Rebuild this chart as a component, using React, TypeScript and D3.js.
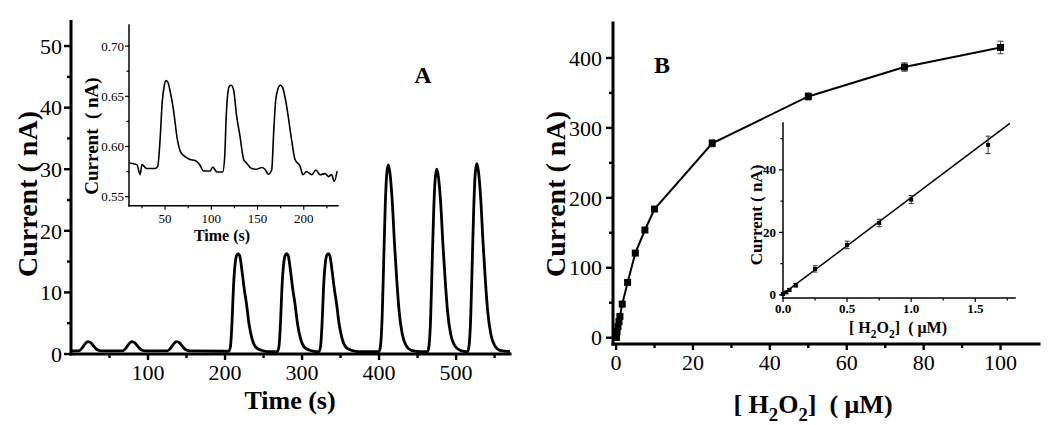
import React from "react";
import * as d3 from "d3";

// ---- panel A: amperometric trace (time s, current nA)
const traceA: [number, number][] = [
  [0, 0.5], [10, 0.5], [14, 0.9], [18, 1.6], [22, 2.0], [26, 1.8], [30, 1.2], [34, 0.7], [40, 0.5],
  [67, 0.5], [71, 0.9], [75, 1.6], [79, 2.0], [83, 1.8], [87, 1.2], [91, 0.7], [97, 0.5],
  [125, 0.5], [129, 0.9], [133, 1.6], [137, 2.0], [141, 1.8], [145, 1.2], [149, 0.7], [155, 0.5],
  [205, 0.45], [207, 1.2], [209, 5], [211, 11], [213, 14.5], [215, 16], [217, 16.3], [219, 16], [222, 13.5],
  [225, 10.5], [228, 8], [231, 5], [235, 2.5], [240, 1.1], [247, 0.6], [255, 0.4],
  [268, 0.4], [270, 1.2], [272, 5], [274, 11], [276, 14.5], [278, 16], [280, 16.3], [282, 16], [285, 13.5],
  [288, 10.5], [291, 8], [294, 5], [298, 2.5], [303, 1.1], [310, 0.6], [318, 0.4],
  [322, 0.4], [324, 1.2], [326, 5], [328, 11], [330, 14.5], [332, 16], [334, 16.3], [336, 16], [339, 13.5],
  [342, 10.5], [345, 8], [348, 5], [352, 2.5], [357, 1.1], [364, 0.6], [372, 0.4],
  [400, 0.4], [402, 1.5], [404, 6], [406, 15], [408, 24], [410, 29.3], [412, 30.7], [414, 29.5], [417, 25],
  [420, 18], [423, 12], [426, 7], [430, 3.3], [435, 1.4], [442, 0.6], [452, 0.4],
  [463, 0.4], [465, 1.5], [467, 6], [469, 15], [471, 23.5], [473, 28.6], [475, 30], [477, 28.8], [480, 24.5],
  [483, 17.6], [486, 11.7], [489, 6.8], [493, 3.2], [498, 1.4], [505, 0.6], [512, 0.4],
  [515, 0.4], [517, 1.5], [519, 6], [521, 15], [523, 24], [525, 29.5], [527, 30.9], [529, 29.7], [532, 25.2],
  [535, 18.1], [538, 12], [541, 7], [545, 3.3], [550, 1.4], [557, 0.6], [570, 0.4],
];

// inset of A: low concentration trace
const insetTraceA: [number, number][] = [
  [11.5, 0.5835], [19.5, 0.5819], [23, 0.5719], [25, 0.582], [30, 0.578], [39, 0.578], [42, 0.58],
  [44.6, 0.6067], [47, 0.645], [49, 0.66], [51, 0.6656], [53, 0.664], [55, 0.657], [59, 0.637],
  [63.3, 0.607], [67, 0.594], [71.6, 0.59], [77, 0.587], [82.5, 0.586], [88, 0.581], [91.5, 0.5755],
  [98.8, 0.5755], [101.5, 0.5795], [106, 0.5746], [112.3, 0.5746], [114.5, 0.59], [116, 0.627],
  [117.5, 0.65], [119.5, 0.66], [121.5, 0.661], [124, 0.6568], [127.4, 0.6303], [131, 0.6104],
  [135, 0.587], [138, 0.5835], [143.6, 0.578], [149, 0.5773], [154.5, 0.579], [158, 0.5773],
  [161.6, 0.5724], [165.3, 0.5766], [167.5, 0.615], [169.5, 0.645], [172, 0.657], [174.5, 0.661],
  [177, 0.659], [179.5, 0.65], [181.5, 0.64], [186.8, 0.6067], [190.5, 0.587], [196, 0.5803],
  [199, 0.5719], [203, 0.575], [208.6, 0.5719], [213, 0.5766], [217.7, 0.5719], [223, 0.573],
  [226.7, 0.57], [230, 0.572], [233, 0.5653], [236, 0.5755],
];

// ---- panel B: calibration curve
const concB = [0, 0.025, 0.05, 0.1, 0.25, 0.5, 0.75, 1.0, 1.6, 3, 5, 7.5, 10, 25, 50, 75, 100];
const currB = [0.3, 0.8, 1.6, 3.1, 8.3, 16, 23, 30.5, 48, 79, 121, 154, 184, 278, 345, 387, 415];
const errB = [0.3, 0.3, 0.4, 0.6, 1, 1.2, 1.2, 1.3, 2.8, 3, 3, 3, 3, 5, 5, 6, 9];
const insetMaxConc = 1.6;
const fitB: [number, number][] = [[0, 0.3], [1.77, 54.9]];

// ticks
const aYTicks = [0, 10, 20, 30, 40, 50];
const aYMinor = [5, 15, 25, 35, 45];
const aXTicks = [100, 200, 300, 400, 500];
const aXMinor = [50, 150, 250, 350, 450, 550];
const iaYTicks = [0.55, 0.6, 0.65, 0.7];
const iaYMinor = [0.575, 0.625, 0.675];
const iaXTicks = [50, 100, 150, 200];
const iaXMinor = [25, 75, 125, 175, 225];
const bYTicks = [0, 100, 200, 300, 400];
const bYMinor = [50, 150, 250, 350];
const bXTicks = [0, 20, 40, 60, 80, 100];
const bXMinor = [10, 30, 50, 70, 90];
const ibYTicks = [0, 20, 40];
const ibYMinor = [10, 30, 50];
const ibXTicks = [0, 0.5, 1.0, 1.5];
const ibXMinor = [0.25, 0.75, 1.25, 1.75];

const FONT = "'Liberation Serif', 'Times New Roman', Times, serif";

type Lin = d3.ScaleLinear<number, number>;

function AxisY(p: {
  scale: Lin; x: number; ticks: number[]; minor: number[]; fmt: (v: number) => string;
  size: number; len: number; minorLen: number; sw: number; bold?: boolean; gap: number;
}) {
  const [r0, r1] = p.scale.range();
  return (
    <g>
      <line x1={p.x} x2={p.x} y1={r0} y2={r1} stroke="#000" strokeWidth={p.sw} strokeLinecap="square" />
      {p.ticks.map((t) => (
        <g key={"t" + t}>
          <line x1={p.x - p.len} x2={p.x} y1={p.scale(t)} y2={p.scale(t)} stroke="#000" strokeWidth={p.sw * 0.8} />
          <text x={p.x - p.len - p.gap} y={p.scale(t)} dy="0.35em" textAnchor="end" fontSize={p.size}
            fontWeight={p.bold ? "bold" : "normal"}>{p.fmt(t)}</text>
        </g>
      ))}
      {p.minor.map((t) => (
        <line key={"m" + t} x1={p.x - p.minorLen} x2={p.x} y1={p.scale(t)} y2={p.scale(t)} stroke="#000" strokeWidth={p.sw * 0.8} />
      ))}
    </g>
  );
}

function AxisX(p: {
  scale: Lin; y: number; ticks: number[]; minor: number[]; fmt: (v: number) => string;
  size: number; len: number; minorLen: number; sw: number; bold?: boolean; base: number;
}) {
  const [r0, r1] = p.scale.range();
  return (
    <g>
      <line x1={r0} x2={r1} y1={p.y} y2={p.y} stroke="#000" strokeWidth={p.sw} strokeLinecap="square" />
      {p.ticks.map((t) => (
        <g key={"t" + t}>
          <line x1={p.scale(t)} x2={p.scale(t)} y1={p.y} y2={p.y + p.len} stroke="#000" strokeWidth={p.sw * 0.8} />
          <text x={p.scale(t)} y={p.y + p.base} textAnchor="middle" fontSize={p.size}
            fontWeight={p.bold ? "bold" : "normal"}>{p.fmt(t)}</text>
        </g>
      ))}
      {p.minor.map((t) => (
        <line key={"m" + t} x1={p.scale(t)} x2={p.scale(t)} y1={p.y} y2={p.y + p.minorLen} stroke="#000" strokeWidth={p.sw * 0.8} />
      ))}
    </g>
  );
}

function H2O2({ sub }: { sub: number }) {
  return (
    <>
      {"[ H"}<tspan dy={sub * 0.3} fontSize={sub * 0.72}>2</tspan>
      <tspan dy={-sub * 0.3}>O</tspan>
      <tspan dy={sub * 0.3} fontSize={sub * 0.72}>2</tspan>
      <tspan dy={-sub * 0.3}>{"]  ( \u03bcM)"}</tspan>
    </>
  );
}

export default function App() {
  // scales
  const xA = d3.scaleLinear().domain([0, 570]).range([71, 510]);
  const yA = d3.scaleLinear().domain([0, 54]).range([354, 21.4]);
  const xIA = d3.scaleLinear().domain([11, 237]).range([129, 338]);
  const yIA = d3.scaleLinear().domain([0.541, 0.721]).range([205.7, 25]);
  const xB = d3.scaleLinear().domain([-0.8, 110]).range([613, 1039]);
  const yB = d3.scaleLinear().domain([-9, 450]).range([344, 23]);
  const xIB = d3.scaleLinear().domain([0, 1.81]).range([783, 1015]);
  const yIB = d3.scaleLinear().domain([-1, 55]).range([298, 123]);

  const lineA = d3.line<[number, number]>().x((d) => xA(d[0])).y((d) => yA(d[1])).curve(d3.curveMonotoneX);
  const lineIA = d3.line<[number, number]>().x((d) => xIA(d[0])).y((d) => yIA(d[1])).curve(d3.curveMonotoneX);
  const ptsB = concB.map((c, i) => ({ c, v: currB[i], e: errB[i] }));
  const lineB = d3.line<{ c: number; v: number }>().x((d) => xB(d.c)).y((d) => yB(d.v));
  const fitLine = d3.line<[number, number]>().x((d) => xIB(d[0])).y((d) => yIB(d[1]));
  const ptsIB = ptsB.filter((d) => d.c <= insetMaxConc);

  const f0 = d3.format("d");
  const f2 = d3.format(".2f");
  const f1 = d3.format(".1f");

  return (
    <svg width={1050} height={425} style={{ position: "absolute", left: 0, top: 0, background: "#fff" }}
      fontFamily={FONT}>
      <rect width={1050} height={425} fill="#fff" />

      {/* ---------- A ---------- */}
      <path d={lineA(traceA) || ""} fill="none" stroke="#000" strokeWidth={2.8} strokeLinejoin="round" />
      <AxisY scale={yA} x={71} ticks={aYTicks} minor={aYMinor} fmt={f0} size={22} len={7} minorLen={4} sw={3} gap={2} />
      <AxisX scale={xA} y={354} ticks={aXTicks} minor={aXMinor} fmt={f0} size={22} len={6} minorLen={4} sw={3} base={26} />
      <text transform="translate(37,194) rotate(-90)" textAnchor="middle" fontSize={28} fontWeight="bold"
        style={{ whiteSpace: "pre" }}>Current ( nA)</text>
      <text x={290} y={409} textAnchor="middle" fontSize={26} fontWeight="bold">Time (s)</text>
      <text x={423} y={83} textAnchor="middle" fontSize={24} fontWeight="bold">A</text>

      {/* inset A */}
      <path d={lineIA(insetTraceA) || ""} fill="none" stroke="#000" strokeWidth={1.6} strokeLinejoin="round" />
      <AxisY scale={yIA} x={129} ticks={iaYTicks} minor={iaYMinor} fmt={f2} size={13} len={4} minorLen={2.5} sw={1.5} gap={1} />
      <AxisX scale={xIA} y={205.7} ticks={iaXTicks} minor={iaXMinor} fmt={f0} size={13} len={4} minorLen={2.5} sw={1.5} base={17} />
      <text transform="translate(98,136) rotate(-90)" textAnchor="middle" fontSize={19} fontWeight="bold"
        style={{ whiteSpace: "pre" }}>{"Current  ( nA)"}</text>
      <text x={222} y={241} textAnchor="middle" fontSize={16} fontWeight="bold">Time (s)</text>

      {/* ---------- B ---------- */}
      <path d={lineB(ptsB) || ""} fill="none" stroke="#000" strokeWidth={2} />
      {ptsB.map((d) => (
        <g key={"b" + d.c}>
          <line x1={xB(d.c)} x2={xB(d.c)} y1={yB(d.v - d.e)} y2={yB(d.v + d.e)} stroke="#444" strokeWidth={1} />
          <line x1={xB(d.c) - 3} x2={xB(d.c) + 3} y1={yB(d.v - d.e)} y2={yB(d.v - d.e)} stroke="#444" strokeWidth={1} />
          <line x1={xB(d.c) - 3} x2={xB(d.c) + 3} y1={yB(d.v + d.e)} y2={yB(d.v + d.e)} stroke="#444" strokeWidth={1} />
          <rect x={xB(d.c) - 3.5} y={yB(d.v) - 3.5} width={7} height={7} fill="#000" />
        </g>
      ))}
      <AxisY scale={yB} x={613} ticks={bYTicks} minor={bYMinor} fmt={f0} size={22} len={7} minorLen={4} sw={3} gap={4} />
      <AxisX scale={xB} y={344} ticks={bXTicks} minor={bXMinor} fmt={f0} size={22} len={6} minorLen={4} sw={3} base={26} />
      <text transform="translate(565,194) rotate(-90)" textAnchor="middle" fontSize={28} fontWeight="bold"
        style={{ whiteSpace: "pre" }}>Current ( nA)</text>
      <text x={813} y={413} textAnchor="middle" fontSize={26} fontWeight="bold" style={{ whiteSpace: "pre" }}>
        <H2O2 sub={26} />
      </text>
      <text x={662} y={73} textAnchor="middle" fontSize={24} fontWeight="bold">B</text>

      {/* inset B */}
      <path d={fitLine(fitB) || ""} fill="none" stroke="#000" strokeWidth={1.5} />
      {ptsIB.map((d) => (
        <g key={"ib" + d.c}>
          <line x1={xIB(d.c)} x2={xIB(d.c)} y1={yIB(d.v - d.e)} y2={yIB(d.v + d.e)} stroke="#333" strokeWidth={1} />
          <line x1={xIB(d.c) - 2.5} x2={xIB(d.c) + 2.5} y1={yIB(d.v - d.e)} y2={yIB(d.v - d.e)} stroke="#333" strokeWidth={1} />
          <line x1={xIB(d.c) - 2.5} x2={xIB(d.c) + 2.5} y1={yIB(d.v + d.e)} y2={yIB(d.v + d.e)} stroke="#333" strokeWidth={1} />
          <rect x={xIB(d.c) - 2} y={yIB(d.v) - 2} width={4} height={4} fill="#000" />
        </g>
      ))}
      <AxisY scale={yIB} x={783} ticks={ibYTicks} minor={ibYMinor} fmt={f0} size={13} len={4} minorLen={2.5} sw={1.5} gap={3} bold />
      <AxisX scale={xIB} y={298} ticks={ibXTicks} minor={ibXMinor} fmt={f1} size={13} len={4} minorLen={2.5} sw={1.5} base={15} bold />
      <text transform="translate(762,215) rotate(-90)" textAnchor="middle" fontSize={17} fontWeight="bold"
        style={{ whiteSpace: "pre" }}>Current ( nA)</text>
      <text x={898} y={333} textAnchor="middle" fontSize={16} fontWeight="bold" style={{ whiteSpace: "pre" }}>
        <H2O2 sub={16} />
      </text>
    </svg>
  );
}
